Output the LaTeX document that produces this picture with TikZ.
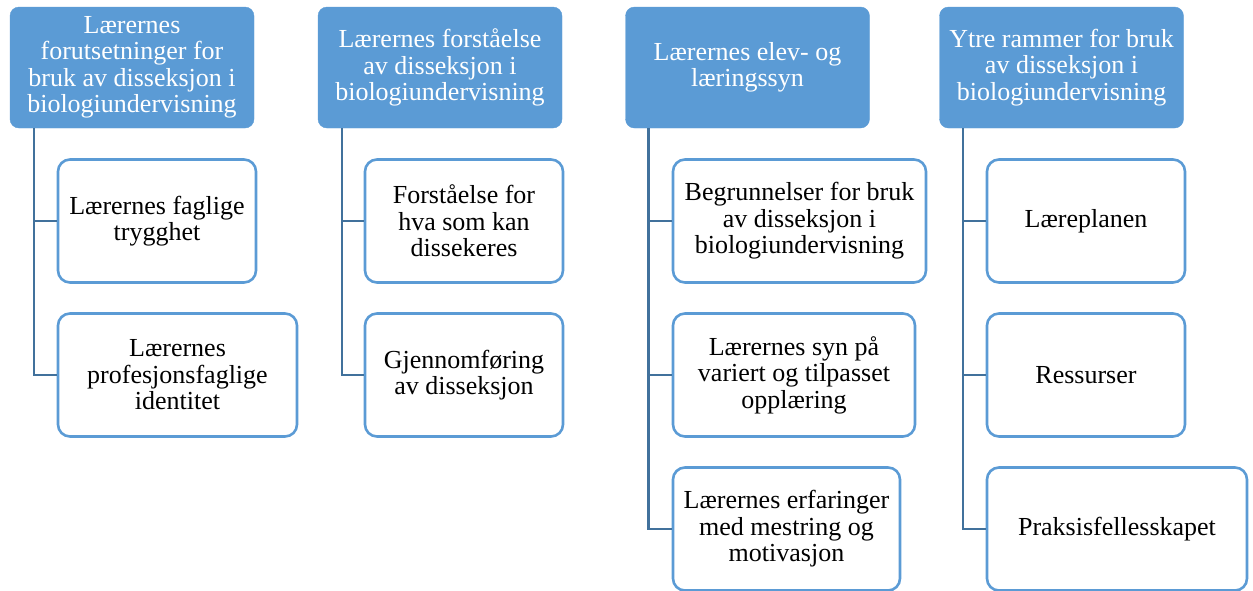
\documentclass[tikz,border=0pt]{standalone}
\usepackage{fontspec}
\setmainfont{Liberation Serif}
\usetikzlibrary{positioning}
\definecolor{accent}{HTML}{5B9BD5}
\definecolor{linkblue}{HTML}{41719C}

\begin{document}
\begin{tikzpicture}[x=1pt, y=-1pt,
  head/.style={draw=accent, fill=accent, text=white, rounded corners=9pt, minimum width=244pt,
    minimum height=121pt, inner sep=0pt, align=center, font=\fontsize{26}{26.5}\selectfont},
  leaf/.style={draw=accent, line width=2.6pt, fill=white, rounded corners=12pt, minimum height=123pt,
    inner sep=0pt, align=center, font=\fontsize{26}{26.5}\selectfont},
  link/.style={draw=linkblue, line width=2.6pt}]
  \useasboundingbox (0,0) rectangle (1253,590);
  % top row
  \node[head] (h1) at (132,67.5) {Lærernes\\forutsetninger for\\bruk av disseksjon i\\biologiundervisning};
  \node[head] (h2) at (440,67.5) {Lærernes forståelse\\av disseksjon i\\biologiundervisning};
  \node[head] (h3) at (747.5,67.5) {Lærernes elev- og\\læringssyn};
  \node[head] (h4) at (1061.5,67.5) {Ytre rammer for bruk\\av disseksjon i\\biologiundervisning};
  \coordinate (s1) at ([xshift=24]h1.south west);
  \coordinate (s2) at ([xshift=24]h2.south west);
  \coordinate (s3) at ([xshift=23]h3.south west);
  \coordinate (s4) at ([xshift=23.5]h4.south west);
  % column 1
  \node[leaf, minimum width=198pt] (a1) at (157,221) {Lærernes faglige\\trygghet};
  \node[leaf, minimum width=239pt] (a2) at (177.5,375) {Lærernes\\profesjonsfaglige\\identitet};
  % column 2
  \node[leaf, minimum width=198pt] (b1) at (464,221) {Forståelse for\\hva som kan\\dissekeres};
  \node[leaf, minimum width=198pt] (b2) at (464,375) {Gjennomføring\\av disseksjon};
  % column 3
  \node[leaf, minimum width=253pt] (c1) at (799.5,221) {Begrunnelser for bruk\\av disseksjon i\\biologiundervisning};
  \node[leaf, minimum width=242pt] (c2) at (794,375) {Lærernes syn på\\variert og tilpasset\\opplæring};
  \node[leaf, minimum width=227pt] (c3) at (786.5,529) {Lærernes erfaringer\\med mestring og\\motivasjon};
  % column 4
  \node[leaf, minimum width=198pt] (d1) at (1086,221) {Læreplanen};
  \node[leaf, minimum width=198pt] (d2) at (1086,375) {Ressurser};
  \node[leaf, minimum width=260pt] (d3) at (1117,529) {Praksisfellesskapet};
  % links
  \draw[link] (s1) |- (a1.west);
  \draw[link] (s1) |- (a2.west);
  \draw[link] (s2) |- (b1.west);
  \draw[link] (s2) |- (b2.west);
  \draw[link] (s3) |- (c1.west);
  \draw[link] (s3) |- (c2.west);
  \draw[link] (s3) |- (c3.west);
  \draw[link] (s4) |- (d1.west);
  \draw[link] (s4) |- (d2.west);
  \draw[link] (s4) |- (d3.west);
\end{tikzpicture}
\end{document}
